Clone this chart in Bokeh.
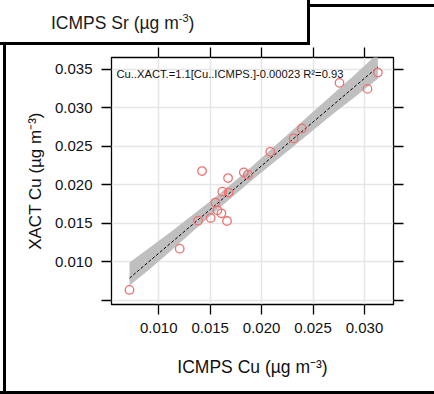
from bokeh.plotting import figure
from bokeh.models import LinearAxis, FixedTicker, Range1d, Label, Div, Spacer, CustomJSTickFormatter, ColumnDataSource, Grid
from bokeh.layouts import column, row
from bokeh.embed import file_html
from bokeh.resources import INLINE

# ---- data ----
icmps_cu = [0.00716, 0.01204, 0.01383, 0.01421, 0.01505, 0.01550, 0.01570, 0.01609, 0.01618, 0.01664,
            0.01674, 0.01680, 0.01827, 0.01866, 0.02084, 0.02311, 0.02392, 0.02757, 0.03029, 0.03130]
xact_cu = [0.00637, 0.01172, 0.01535, 0.02179, 0.01570, 0.01770, 0.01670, 0.01631, 0.01911, 0.01531,
           0.02088, 0.01900, 0.02162, 0.02132, 0.02429, 0.02602, 0.02732, 0.03323, 0.03245, 0.03457]

fit_x = [0.00716, 0.0313]
fit_y = [0.0079, 0.0353]

band_x = [0.00716, 0.0090, 0.0110, 0.0130, 0.0150, 0.0170, 0.0190, 0.0210, 0.0230, 0.0250, 0.0270, 0.0290, 0.0313]
band_upper = [0.00993, 0.01173, 0.01371, 0.01579, 0.01787, 0.02005, 0.02233, 0.02471, 0.02709, 0.02947, 0.03185, 0.03423, 0.03705]
band_lower = [0.00693, 0.00893, 0.01121, 0.01359, 0.01597, 0.01825, 0.02053, 0.02271, 0.02489, 0.02707, 0.02925, 0.03133, 0.03375]

x_ticks = [0.010, 0.015, 0.020, 0.025, 0.030]
x_tick_labels = ["0.010", "0.015", "0.020", "0.025", "0.030"]
y_ticks = [0.005, 0.010, 0.015, 0.020, 0.025, 0.030, 0.035]
y_tick_labels = ["", "0.010", "0.015", "0.020", "0.025", "0.030", "0.035"]

annotation = "Cu..XACT.=1.1[Cu..ICMPS.]-0.00023 R²=0.93"
x_title = "ICMPS Cu (µg m⁻³)"
y_title = "XACT Cu (µg m⁻³)"
top_title = "ICMPS Sr (µg m<sup style='font-size:11px'>-3</sup>)"

FONT = "Liberation Sans"

p = figure(width=428, height=346, output_backend="svg", toolbar_location=None,
           x_range=Range1d(0.00541, 0.03282), y_range=Range1d(0.00448, 0.03652),
           x_axis_location=None, y_axis_location=None,
           min_border_left=105, min_border_right=41, min_border_top=12, min_border_bottom=87)
p.outline_line_color = "black"
p.outline_line_width = 1.3
p.background_fill_color = "white"
p.border_fill_color = "white"


def fmt(tick_values, labels):
    return CustomJSTickFormatter(args=dict(tks=tick_values, lbls=labels),
                                 code="for (let i = 0; i < tks.length; i++) { if (Math.abs(tks[i] - tick) < 1e-9) return lbls[i]; } return '';")


def style(ax, show):
    ax.major_tick_out = 10
    ax.major_tick_in = 0
    ax.minor_tick_line_color = None
    ax.major_tick_line_color = "black"
    ax.major_tick_line_width = 1.3
    ax.axis_line_color = None
    ax.major_label_text_font = FONT
    ax.major_label_text_color = "#111111"
    ax.axis_label_text_font = FONT
    ax.axis_label_text_font_style = "normal"
    ax.axis_label_text_color = "#111111"
    if not show:
        ax.major_label_text_font_size = "0px"
        ax.major_label_standoff = 0


bottom = LinearAxis(ticker=FixedTicker(ticks=x_ticks), formatter=fmt(x_ticks, x_tick_labels), axis_label=x_title)
style(bottom, True)
bottom.major_label_text_font_size = "15px"
bottom.major_label_standoff = 8
bottom.axis_label_text_font_size = "17.5px"
bottom.axis_label_standoff = 21
p.add_layout(bottom, "below")

left = LinearAxis(ticker=FixedTicker(ticks=y_ticks), formatter=fmt(y_ticks, y_tick_labels), axis_label=y_title)
style(left, True)
left.major_label_text_font_size = "15px"
left.major_label_standoff = 9
left.axis_label_text_font_size = "17px"
left.axis_label_standoff = 7
p.add_layout(left, "left")

top_ax = LinearAxis(ticker=FixedTicker(ticks=x_ticks), formatter=fmt(x_ticks, ["" for _ in x_ticks]))
style(top_ax, False)
p.add_layout(top_ax, "above")

right_ax = LinearAxis(ticker=FixedTicker(ticks=y_ticks), formatter=fmt(y_ticks, ["" for _ in y_ticks]))
style(right_ax, False)
p.add_layout(right_ax, "right")

gx = Grid(dimension=0, ticker=FixedTicker(ticks=x_ticks), grid_line_color="#e6e6e6", grid_line_width=1.5)
gy = Grid(dimension=1, ticker=FixedTicker(ticks=y_ticks), grid_line_color="#e6e6e6", grid_line_width=1.5)
p.add_layout(gx)
p.add_layout(gy)

band_src = ColumnDataSource(dict(x=band_x + band_x[::-1], y=band_upper + band_lower[::-1]))
p.patch("x", "y", source=band_src, fill_color="#bfbfbf", line_color=None)

p.line(fit_x, fit_y, line_color="black", line_width=1, line_dash="3 2")

p.scatter(icmps_cu, xact_cu, marker="circle", size=8.5, fill_color=None, line_color="#f07070", line_width=1.3)

p.add_layout(Label(x=0.00589, y=0.03435, text=annotation, text_font=FONT, text_font_size="11.2px",
                   text_color="#111111", text_baseline="middle", text_align="left"))

top_html = (
    "<div style=\"position:relative;width:434px;height:45px;font-family:'Liberation Sans',Arial,sans-serif;\">"
    "<div style='position:absolute;left:0;top:0;width:310px;height:45px;box-sizing:border-box;"
    "border-right:3px solid #000;border-bottom:3px solid #000;'></div>"
    "<div style='position:absolute;left:307px;top:4px;width:127px;height:3px;background:#000;'></div>"
    "<div style='position:absolute;left:51px;top:8px;font-size:17.5px;line-height:20px;color:#1a1a1a;white-space:nowrap;'>"
    + top_title + "</div></div>"
)
top_div = Div(text=top_html, width=434, height=45, margin=0)
left_line = Div(text="", width=3, height=346, margin=0, styles={"background-color": "#000000"})
bottom_line = Div(text="", width=434, height=3, margin=0, styles={"background-color": "#000000"})

layout = column(top_div, row(Spacer(width=3, height=346, margin=0), left_line, p, spacing=0), bottom_line, spacing=0)

open("out.html", "w").write(file_html(layout, INLINE))
